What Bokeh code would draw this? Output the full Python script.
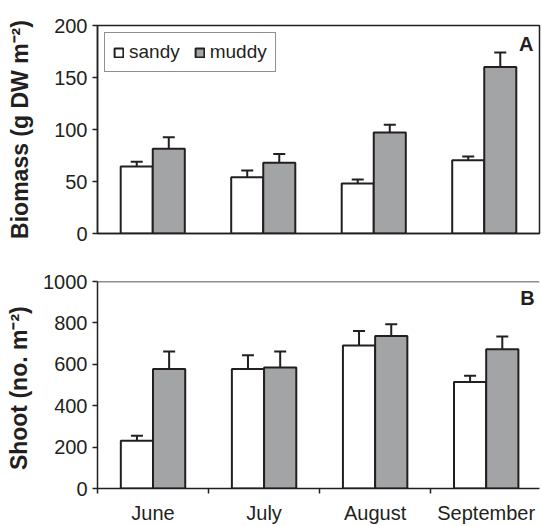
import numpy as np
from bokeh.plotting import figure
from bokeh.models import (ColumnDataSource, Range1d, FixedTicker, Whisker, TeeHead,
                          Label, Span, Legend, LegendItem)
from bokeh.layouts import column
from bokeh.embed import file_html
from bokeh.resources import INLINE

months = ["June", "July", "August", "September"]
biomass_sandy = [64.5, 54, 48, 70.5]
biomass_sandy_err = [4.5, 6.5, 4, 3.5]
biomass_muddy = [81.5, 68, 97, 160]
biomass_muddy_err = [11, 8.5, 7.5, 14]
shoot_sandy = [231, 577, 691, 514]
shoot_sandy_err = [24, 67, 70, 31]
shoot_muddy = [577, 585, 737, 673]
shoot_muddy_err = [85, 77, 56, 61]

INK = "#231f20"
GRAY = "#a3a4a6"
FONT = "Liberation Sans"
BAR_W = 0.29
idx = np.arange(len(months))


def style_axes(p, yticks, ylabel, label_standoff):
    p.toolbar_location = None
    p.xgrid.grid_line_color = None
    p.ygrid.grid_line_color = None
    p.background_fill_color = "white"
    p.border_fill_color = "white"
    ya = p.yaxis[0]
    ya.ticker = FixedTicker(ticks=yticks)
    ya.axis_line_color = INK
    ya.axis_line_width = 1.5
    ya.major_tick_line_color = INK
    ya.major_tick_line_width = 1.5
    ya.major_tick_out = 5
    ya.major_tick_in = 0
    ya.minor_tick_line_color = None
    ya.major_label_text_font = FONT
    ya.major_label_text_font_size = "20px"
    ya.major_label_text_color = INK
    ya.major_label_standoff = 5
    ya.axis_label = ylabel
    ya.axis_label_text_font = FONT
    ya.axis_label_text_font_size = "23px"
    ya.axis_label_text_font_style = "bold"
    ya.axis_label_text_color = INK
    ya.axis_label_standoff = label_standoff
    xa = p.xaxis[0]
    xa.axis_line_color = INK
    xa.axis_line_width = 1.5


def add_bars(p, sandy, sandy_err, muddy, muddy_err):
    src_s = ColumnDataSource(dict(x=idx - BAR_W / 2, top=sandy,
                                  up=np.array(sandy) + np.array(sandy_err)))
    src_m = ColumnDataSource(dict(x=idx + BAR_W / 2, top=muddy,
                                  up=np.array(muddy) + np.array(muddy_err)))
    rs = p.vbar(x="x", top="top", width=BAR_W, source=src_s, fill_color="white",
                line_color=INK, line_width=2)
    rm = p.vbar(x="x", top="top", width=BAR_W, source=src_m, fill_color=GRAY,
                line_color=INK, line_width=2)
    for src in (src_s, src_m):
        w = Whisker(base="x", lower="top", upper="up", source=src,
                    line_color=INK, line_width=2, lower_head=None,
                    upper_head=TeeHead(size=12, line_color=INK, line_width=2))
        p.add_layout(w)
    return rs, rm


# ---- top panel: biomass
p1 = figure(width=542, height=250, x_range=Range1d(-0.5, 3.5), y_range=Range1d(0, 200),
            output_backend="svg", toolbar_location=None,
            min_border_left=97, min_border_right=3, min_border_top=25, min_border_bottom=17)
style_axes(p1, [0, 50, 100, 150, 200], "Biomass (g DW m\u207b\u00b2)", 18)
p1.xaxis[0].ticker = FixedTicker(ticks=[])
p1.xaxis[0].major_tick_line_color = None
p1.xaxis[0].minor_tick_line_color = None
p1.xaxis[0].major_label_text_font_size = "0px"
p1.outline_line_color = INK
p1.outline_line_width = 1.5
p1.outline_line_alpha = 1.0
rs, rm = add_bars(p1, biomass_sandy, biomass_sandy_err, biomass_muddy, biomass_muddy_err)
leg = Legend(items=[LegendItem(label="sandy", renderers=[rs]),
                    LegendItem(label="muddy", renderers=[rm])],
             orientation="horizontal", location="top_left")
leg.margin = 7
leg.padding = 8
leg.spacing = 14
leg.label_standoff = 5
leg.glyph_width = 11
leg.glyph_height = 11
leg.label_height = 20
leg.label_text_font = FONT
leg.label_text_font_size = "19px"
leg.label_text_color = INK
leg.border_line_color = INK
leg.border_line_width = 1
leg.background_fill_color = "white"
p1.add_layout(leg, "center")
p1.add_layout(Label(x=3.5, y=200, x_offset=-6, y_offset=-7, text="A", text_align="right",
                    text_baseline="top", text_font=FONT, text_font_size="20px",
                    text_font_style="bold", text_color=INK))

# ---- bottom panel: shoots
p2 = figure(width=542, height=276, x_range=Range1d(-0.5, 3.48), y_range=Range1d(0, 1000),
            output_backend="svg", toolbar_location=None,
            min_border_left=97, min_border_right=0, min_border_top=31, min_border_bottom=37)
style_axes(p2, [0, 200, 400, 600, 800, 1000], "Shoot (no.  m\u207b\u00b2)", 8)
p2.outline_line_color = None
xa = p2.xaxis[0]
xa.ticker = FixedTicker(ticks=list(idx), minor_ticks=list(np.arange(-0.5, 4.0, 1.0)))
xa.major_label_overrides = {int(i): m for i, m in zip(idx, months)}
xa.major_tick_line_color = None
xa.minor_tick_line_color = INK
xa.minor_tick_line_width = 1.5
xa.minor_tick_out = 5
xa.minor_tick_in = 0
xa.major_label_text_font = FONT
xa.major_label_text_font_size = "20px"
xa.major_label_text_color = INK
xa.major_label_standoff = 7
p2.add_layout(Span(location=1000, dimension="width", line_color=INK, line_width=1.5))
add_bars(p2, shoot_sandy, shoot_sandy_err, shoot_muddy, shoot_muddy_err)
p2.add_layout(Label(x=3.5, y=1000, x_offset=-7, y_offset=-5, text="B", text_align="right",
                    text_baseline="top", text_font=FONT, text_font_size="20px",
                    text_font_style="bold", text_color=INK))

layout = column(p1, p2, spacing=0)
open("out.html", "w").write(file_html(layout, INLINE))
